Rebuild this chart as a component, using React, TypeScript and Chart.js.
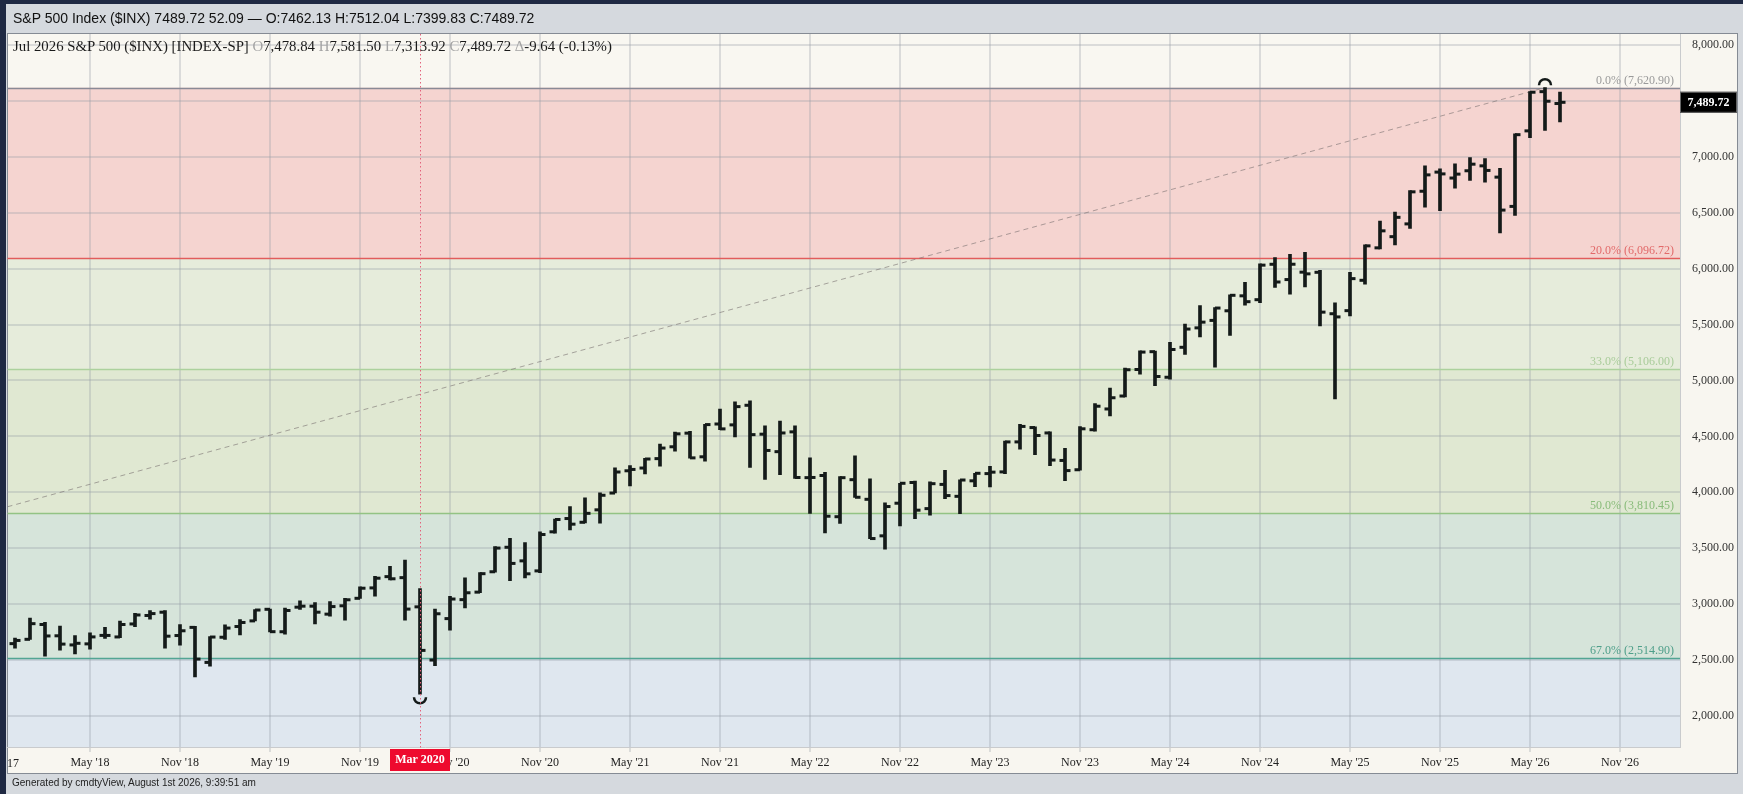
import React, { useEffect, useRef } from "react";
import { Chart, registerables } from "chart.js";

Chart.register(...registerables);

const SERIF = "'Liberation Serif', 'Times New Roman', serif";
const SANS = "'Liberation Sans', Arial, sans-serif";

// ---------- categories (monthly, Dec 2017 .. Jul 2026) ----------
const MONTH_NAMES = ["Jan", "Feb", "Mar", "Apr", "May", "Jun", "Jul", "Aug", "Sep", "Oct", "Nov", "Dec"];
const months: string[] = [];
for (let k = 0; k < 104; k++) {
  const m = (11 + k) % 12;
  const yr = 2017 + Math.floor((11 + k) / 12);
  months.push(`${MONTH_NAMES[m]} ${yr}`);
}

// ---------- series values ----------
const openP = [
  2645.10, 2683.73, 2816.45, 2715.22, 2633.45, 2642.96, 2718.70, 2704.95, 2821.17, 2896.96, 2926.29, 2717.58, 2790.50,
  2476.96, 2702.32, 2798.22, 2848.63, 2952.33, 2751.53, 2971.41, 2980.32, 2909.01, 2983.69, 3050.72, 3143.85,
  3244.67, 3235.66, 2974.28, 2498.08, 2869.09, 3038.78, 3105.92, 3288.26, 3507.44, 3385.87, 3296.20, 3645.87,
  3764.61, 3731.17, 3842.51, 3992.78, 4191.98, 4216.52, 4300.73, 4406.86, 4528.80, 4317.16, 4610.62, 4602.82,
  4778.14, 4519.57, 4363.14, 4540.32, 4130.61, 4149.78, 3781.00, 4112.38, 3936.73, 3609.78, 3901.79, 4087.14,
  3853.29, 4070.07, 3963.34, 4102.20, 4166.79, 4181.99, 4450.48, 4578.83, 4530.60, 4284.52, 4201.27, 4559.43,
  4745.20, 4861.11, 5098.51, 5257.97, 5029.03, 5297.15, 5471.08, 5537.84, 5623.89, 5757.73, 5723.22, 6040.11,
  5903.26, 5969.65, 5968.33, 5597.53, 5625.14, 5896.68, 6187.25, 6287.28, 6401.51, 6693.75, 6865.00, 6812.00,
  6877.00, 6921.00, 6820.00, 6558.00, 7234.00, 7585.00, 7478.84,
];
const highP = [
  2694.97, 2872.87, 2835.96, 2801.90, 2717.49, 2742.24, 2791.47, 2848.03, 2916.50, 2940.91, 2939.86, 2815.15, 2800.18,
  2708.95, 2813.49, 2860.31, 2949.52, 2954.13, 2964.15, 3027.98, 3013.59, 3021.99, 3050.10, 3154.26, 3247.93,
  3337.77, 3393.52, 3136.72, 2954.86, 3068.67, 3233.13, 3279.99, 3514.77, 3588.11, 3549.85, 3645.99, 3760.20,
  3870.90, 3950.43, 3994.41, 4218.78, 4238.04, 4302.43, 4429.97, 4537.36, 4545.85, 4608.08, 4743.83, 4808.93,
  4818.62, 4595.31, 4637.30, 4593.45, 4307.66, 4177.51, 4140.15, 4325.28, 4119.28, 3905.42, 4080.11, 4100.96,
  4094.21, 4195.44, 4110.75, 4170.06, 4231.10, 4458.48, 4607.07, 4584.62, 4541.25, 4393.57, 4587.64, 4793.30,
  4931.09, 5111.06, 5264.85, 5263.95, 5341.88, 5505.53, 5669.67, 5651.62, 5767.37, 5878.46, 6044.17, 6099.97,
  6128.18, 6147.43, 5986.09, 5695.31, 5968.61, 6215.08, 6427.02, 6508.23, 6699.52, 6920.34, 6895.00, 6939.00,
  6996.00, 6987.00, 6898.00, 7207.00, 7585.00, 7620.90, 7581.50,
];
const lowP = [
  2605.52, 2682.36, 2532.69, 2585.89, 2553.80, 2594.62, 2691.99, 2698.95, 2796.34, 2864.12, 2603.54, 2631.09, 2346.58,
  2443.96, 2681.83, 2722.27, 2848.63, 2750.52, 2728.81, 2952.22, 2822.12, 2891.85, 2855.94, 3050.72, 3070.33,
  3214.64, 2855.84, 2191.86, 2447.49, 2766.64, 2965.66, 3101.17, 3284.53, 3209.45, 3233.94, 3279.74, 3633.40,
  3662.71, 3725.62, 3723.34, 3992.78, 4056.88, 4164.40, 4233.13, 4367.73, 4305.91, 4278.94, 4560.00, 4495.12,
  4222.62, 4114.65, 4157.87, 4124.28, 3810.32, 3636.87, 3721.56, 3954.53, 3584.13, 3491.58, 3698.15, 3764.49,
  3794.33, 3943.08, 3808.86, 4049.35, 4048.28, 4166.15, 4385.05, 4335.31, 4238.63, 4103.78, 4197.74, 4546.50,
  4682.11, 4853.52, 5056.82, 4953.56, 5011.05, 5234.32, 5390.95, 5119.26, 5402.62, 5674.00, 5696.51, 5832.30,
  5773.31, 5837.66, 5488.73, 4835.04, 5578.64, 5861.43, 6177.97, 6212.69, 6360.58, 6550.78, 6521.00, 6722.00,
  6790.00, 6775.00, 6320.00, 6477.00, 7174.00, 7237.00, 7313.92,
];
const closeP = [
  2673.61, 2823.81, 2713.83, 2640.87, 2648.05, 2705.27, 2718.37, 2816.29, 2901.52, 2913.98, 2711.74, 2760.17, 2506.85,
  2704.10, 2784.49, 2834.40, 2945.83, 2752.06, 2941.76, 2980.38, 2926.46, 2976.74, 3037.56, 3140.98, 3230.78,
  3225.52, 2954.22, 2584.59, 2912.43, 3044.31, 3100.29, 3271.12, 3500.31, 3363.00, 3269.96, 3621.63, 3756.07,
  3714.24, 3811.15, 3972.89, 4181.17, 4204.11, 4297.50, 4395.26, 4522.68, 4307.54, 4605.38, 4567.00, 4766.18,
  4515.55, 4373.94, 4530.41, 4131.93, 4132.15, 3785.38, 4130.29, 3955.00, 3585.62, 3871.98, 4080.11, 3839.50,
  4076.60, 3970.15, 4109.31, 4169.48, 4179.83, 4450.38, 4588.96, 4507.66, 4288.05, 4193.80, 4567.80, 4769.83,
  4845.65, 5096.27, 5254.35, 5035.69, 5277.51, 5460.48, 5522.30, 5648.40, 5762.48, 5705.45, 6032.38, 5881.63,
  6040.53, 5954.50, 5611.85, 5569.06, 5911.69, 6204.95, 6339.39, 6460.26, 6688.46, 6840.20, 6849.00, 6847.00,
  6936.00, 6880.00, 6525.00, 7200.00, 7580.00, 7499.36, 7489.72,
];

// ---------- axes / annotations ----------
const yTicks = [2000, 2500, 3000, 3500, 4000, 4500, 5000, 5500, 6000, 6500, 7000, 7500, 8000];
const xTickIndex = [-1, 5, 11, 17, 23, 29, 35, 41, 47, 53, 59, 65, 71, 77, 83, 89, 95, 101, 107];
const xTickLabels = [
  "Nov '17", "May '18", "Nov '18", "May '19", "Nov '19", "May '20", "Nov '20", "May '21", "Nov '21", "May '22",
  "Nov '22", "May '23", "Nov '23", "May '24", "Nov '24", "May '25", "Nov '25", "May '26", "Nov '26",
];
const fibPct = [0, 20, 33, 50, 67];
const fibLevels = [7620.9, 6096.72, 5106.0, 3810.45, 2514.9];
const bandColors = ["#f9f7f1", "#f5d4d0", "#e6ecdb", "#e0e8d2", "#d6e4da", "#dfe7ef"];
const fibLineColors = ["#8a8a96", "#e25c5c", "#acd19d", "#93c384", "#52a593"];
const fibLabelColors = ["#9a9a9a", "#e26a6a", "#a9cc9a", "#88bb7a", "#4f9f8a"];
const trendX = [-0.5, 102];
const trendY = [3870, 7620.9];
const swingLowIdx = 27;
const swingHighIdx = 102;
const crossIdx = 27;
const crossLabel = "Mar 2020";
const lastClose = 7489.72;

const fmt = (v: number) =>
  v.toLocaleString("en-US", { minimumFractionDigits: 2, maximumFractionDigits: 2 });

const BAR_COLOR = "#141a19";

const framePlugin = {
  id: "frame",
  beforeDraw(chart: any) {
    const { ctx, chartArea: ca, scales } = chart;
    const y = scales.y;
    const W = chart.width;
    const H = chart.height;
    ctx.save();
    ctx.fillStyle = "#d5d9de";
    ctx.fillRect(0, 0, W, H);
    ctx.fillStyle = "#1f2943";
    ctx.fillRect(0, 0, W, 4);
    ctx.fillRect(0, 0, 6, H);
    ctx.fillStyle = "#f8f6f0";
    ctx.fillRect(7, 33, 1731, 741);
    const edges = [y.max, ...fibLevels, y.min];
    bandColors.forEach((c, k) => {
      const y0 = y.getPixelForValue(edges[k]);
      const y1 = y.getPixelForValue(edges[k + 1]);
      ctx.fillStyle = c;
      ctx.fillRect(ca.left, y0, ca.right - ca.left, y1 - y0);
    });
    ctx.strokeStyle = "#858b94";
    ctx.lineWidth = 1;
    ctx.strokeRect(7.5, 33.5, 1730, 740);
    ctx.restore();
  },
};

const fibPlugin = {
  id: "fib",
  beforeDatasetsDraw(chart: any) {
    const { ctx, chartArea: ca, scales } = chart;
    const y = scales.y;
    ctx.save();
    fibLevels.forEach((lv, k) => {
      const py = Math.round(y.getPixelForValue(lv)) + 0.5;
      ctx.strokeStyle = fibLineColors[k];
      ctx.lineWidth = 1.3;
      ctx.beginPath();
      ctx.moveTo(ca.left, py);
      ctx.lineTo(ca.right, py);
      ctx.stroke();
      ctx.fillStyle = fibLabelColors[k];
      ctx.font = `12px ${SERIF}`;
      ctx.textAlign = "right";
      ctx.textBaseline = "alphabetic";
      ctx.fillText(`${fibPct[k].toFixed(1)}% (${fmt(lv)})`, ca.right - 6, py - 5);
    });
    ctx.restore();
  },
};

const ohlcPlugin = {
  id: "ohlc",
  afterDatasetsDraw(chart: any) {
    const { ctx, chartArea: ca, scales } = chart;
    const x = scales.x;
    const y = scales.y;
    ctx.save();
    ctx.fillStyle = BAR_COLOR;
    for (let i = 0; i < months.length; i++) {
      const px = x.getPixelForValue(i);
      const yo = y.getPixelForValue(openP[i]);
      const yc = y.getPixelForValue(closeP[i]);
      ctx.fillRect(px - 5.5, yo - 1.5, 5.5, 3);
      ctx.fillRect(px, yc - 1.5, 5.5, 3);
    }
    // swing markers
    ctx.strokeStyle = BAR_COLOR;
    ctx.lineWidth = 2.5;
    const lx = x.getPixelForValue(swingLowIdx);
    const ly = y.getPixelForValue(lowP[swingLowIdx]);
    ctx.beginPath();
    ctx.arc(lx, ly + 3, 6, 0, Math.PI);
    ctx.stroke();
    const hx = x.getPixelForValue(swingHighIdx);
    const hy = y.getPixelForValue(highP[swingHighIdx]);
    ctx.beginPath();
    ctx.arc(hx, hy - 2.5, 6, Math.PI, Math.PI * 2);
    ctx.stroke();
    // crosshair (dotted)
    const cx = Math.round(x.getPixelForValue(crossIdx)) + 0.5;
    ctx.strokeStyle = "#e4637c";
    ctx.lineWidth = 1;
    ctx.setLineDash([1.5, 2.5]);
    ctx.beginPath();
    ctx.moveTo(cx, ca.top);
    ctx.lineTo(cx, ca.bottom + 2);
    ctx.stroke();
    ctx.restore();
  },
};

const overlayPlugin = {
  id: "overlay",
  afterDraw(chart: any) {
    const { ctx, chartArea: ca, scales } = chart;
    const x = scales.x;
    const y = scales.y;
    ctx.save();
    // partially hidden first tick label
    ctx.beginPath();
    ctx.rect(ca.left + 0.5, ca.bottom, 200, 26);
    ctx.clip();
    ctx.font = `12px ${SERIF}`;
    ctx.fillStyle = "#222";
    ctx.textAlign = "center";
    ctx.textBaseline = "middle";
    ctx.fillText(xTickLabels[0], x.getPixelForValue(xTickIndex[0]), 763.5);
    ctx.restore();

    ctx.save();
    // crosshair date label
    const cx = x.getPixelForValue(crossIdx);
    ctx.fillStyle = "#ee0a2e";
    ctx.fillRect(cx - 30, ca.bottom + 2, 60, 22);
    ctx.fillStyle = "#ffffff";
    ctx.font = `bold 12px ${SERIF}`;
    ctx.textAlign = "center";
    ctx.textBaseline = "middle";
    ctx.fillText(crossLabel, cx, ca.bottom + 13);
    // last price label
    const py = y.getPixelForValue(lastClose);
    ctx.fillStyle = "#000";
    ctx.fillRect(ca.right, py - 10.5, 57, 21);
    ctx.strokeStyle = "#666";
    ctx.lineWidth = 1;
    ctx.strokeRect(ca.right + 0.5, py - 10, 56, 20);
    ctx.fillStyle = "#fff";
    ctx.font = `bold 12px ${SERIF}`;
    ctx.fillText(fmt(lastClose), ca.right + 28.5, py + 0.5);
    ctx.restore();
  },
};

export default function App() {
  const canvasRef = useRef<HTMLCanvasElement | null>(null);

  useEffect(() => {
    document.body.style.margin = "0";
    const canvas = canvasRef.current;
    if (!canvas) return;
    const gridColor = "rgba(150,156,166,0.30)";
    const chart = new Chart(canvas, {
      type: "bar",
      data: {
        datasets: [
          {
            type: "bar",
            label: "High-Low",
            data: months.map((_, i) => ({ x: i, y: [lowP[i], highP[i]] })) as any,
            backgroundColor: BAR_COLOR,
            borderWidth: 0,
            barThickness: 3,
            order: 0,
          } as any,
          {
            type: "line",
            label: "Trend",
            data: trendX.map((v, k) => ({ x: v, y: trendY[k] })),
            borderColor: "rgba(120,112,112,0.6)",
            borderWidth: 1,
            borderDash: [5, 4],
            pointRadius: 0,
            fill: false,
            order: 1,
          } as any,
        ],
      },
      options: {
        responsive: false,
        animation: false,
        layout: { padding: { top: 34, left: 7.5, right: 0, bottom: 0 } },
        plugins: { legend: { display: false }, tooltip: { enabled: false } },
        scales: {
          x: {
            type: "linear",
            min: -0.5,
            max: 111,
            offset: false,
            afterBuildTicks: (s: any) => {
              s.ticks = xTickIndex.filter((v) => v >= s.min && v <= s.max).map((v) => ({ value: v }));
            },
            afterFit: (s: any) => {
              s.height = 47;
            },
            grid: { color: gridColor, lineWidth: 2, tickLength: 5, offset: false, drawTicks: true },
            border: { color: "#c9cbcd", width: 1 },
            ticks: {
              autoSkip: false,
              maxRotation: 0,
              padding: 4,
              color: "#222",
              font: { family: SERIF, size: 12 },
              callback: (v: any) => {
                const k = xTickIndex.indexOf(Number(v));
                return k >= 0 ? xTickLabels[k] : "";
              },
            },
          },
          y: {
            position: "right",
            min: 1720,
            max: 8101,
            afterBuildTicks: (s: any) => {
              s.ticks = yTicks.map((v) => ({ value: v }));
            },
            afterFit: (s: any) => {
              s.width = 63;
            },
            grid: { color: gridColor, lineWidth: 2, drawTicks: false },
            border: { color: "#c9cbcd", width: 1 },
            ticks: {
              padding: 12,
              color: "#333",
              font: { family: SERIF, size: 12 },
              callback: (v: any) => fmt(Number(v)),
            },
          },
        },
      } as any,
      plugins: [framePlugin, fibPlugin, ohlcPlugin, overlayPlugin],
    });
    return () => chart.destroy();
  }, []);

  const gray = { color: "#a3a3a3" };
  return (
    <div style={{ position: "fixed", left: 0, top: 0, width: 1743, height: 794, overflow: "hidden" }}>
      <canvas ref={canvasRef} width={1743} height={794} style={{ position: "absolute", left: 0, top: 0, width: 1743, height: 794 }} />
      <div style={{ position: "absolute", left: 13, top: 10, font: `14px ${SANS}`, lineHeight: "16px", color: "#111", whiteSpace: "nowrap" }}>
        S&amp;P 500 Index ($INX) 7489.72 52.09 — O:7462.13 H:7512.04 L:7399.83 C:7489.72
      </div>
      <div style={{ position: "absolute", left: 13, top: 37, font: `14.8px ${SERIF}`, lineHeight: "18px", color: "#1a1a1a", whiteSpace: "nowrap" }}>
        Jul 2026 S&amp;P 500 ($INX) [INDEX-SP] <span style={gray}>O</span>7,478.84 <span style={gray}>H</span>7,581.50{" "}
        <span style={gray}>L</span>7,313.92 <span style={gray}>C</span>7,489.72 <span style={gray}>Δ</span>-9.64 (-0.13%)
      </div>
      <div style={{ position: "absolute", left: 12, top: 777, font: `10px ${SANS}`, lineHeight: "12px", color: "#222", whiteSpace: "nowrap" }}>
        Generated by cmdtyView, August 1st 2026, 9:39:51 am
      </div>
    </div>
  );
}
